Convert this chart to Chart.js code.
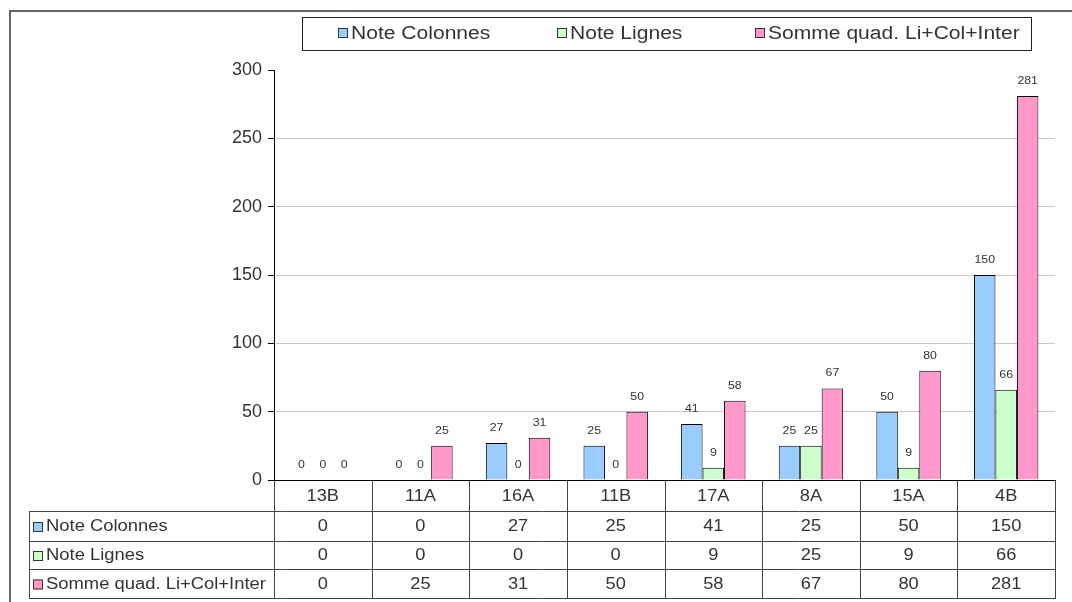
<!DOCTYPE html>
<html>
<head>
<meta charset="utf-8">
<script src="https://cdn.jsdelivr.net/npm/chart.js@4/dist/chart.umd.min.js"></script>
<style>
  html, body { margin: 0; padding: 0; background: #fff; }
  canvas { display: block; }
</style>
</head>
<body>
<canvas id="chart" width="1072" height="602"></canvas>
<script>
// data
const categories = ['13B', '11A', '16A', '11B', '17A', '8A', '15A', '4B'];
const noteColonnes = [0, 0, 27, 25, 41, 25, 50, 150];
const noteLignes = [0, 0, 0, 0, 9, 25, 9, 66];
const sommeQuad = [0, 25, 31, 50, 58, 67, 80, 281];
const seriesNames = ['Note Colonnes', 'Note Lignes', 'Somme quad. Li+Col+Inter'];
const seriesColors = ['#99ccff', '#ccffcc', '#ff99cc'];
const yTicks = [0, 50, 100, 150, 200, 250, 300];

const FONT = '"Liberation Sans", Arial, sans-serif';
const TEXT = '#333';

// reference text is a bit wide, so stretch it horizontally
function drawText(ctx, text, x, y, size, align, stretch) {
  ctx.save();
  ctx.translate(x, y);
  ctx.scale(stretch || 1.14, 1);
  ctx.font = size + 'px ' + FONT;
  ctx.fillStyle = TEXT;
  ctx.textAlign = align || 'center';
  ctx.textBaseline = 'middle';
  ctx.fillText(text, 0, 0);
  ctx.restore();
}

function swatch(ctx, x, y, color, s) {
  ctx.fillStyle = color;
  ctx.fillRect(x, y, s, s);
  ctx.strokeStyle = '#333';
  ctx.lineWidth = 1;
  ctx.strokeRect(x + 0.5, y + 0.5, s - 1, s - 1);
}

function hline(ctx, x1, x2, y) {
  ctx.beginPath();
  ctx.moveTo(x1, Math.round(y) + 0.5);
  ctx.lineTo(x2, Math.round(y) + 0.5);
  ctx.stroke();
}
function vline(ctx, x, y1, y2) {
  ctx.beginPath();
  ctx.moveTo(Math.round(x) + 0.5, y1);
  ctx.lineTo(Math.round(x) + 0.5, y2);
  ctx.stroke();
}

// value labels above each bar
const valueLabels = {
  id: 'valueLabels',
  afterDatasetsDraw(chart) {
    const ctx = chart.ctx;
    chart.data.datasets.forEach((ds, i) => {
      chart.getDatasetMeta(i).data.forEach((bar, j) => {
        drawText(ctx, String(ds.data[j]), bar.x, bar.y - 15, 11, 'center', 1.12);
      });
    });
  }
};

// frame, legend box and data table
const decorations = {
  id: 'decorations',
  afterDraw(chart) {
    const ctx = chart.ctx;
    const xs = chart.scales.x;
    const ys = chart.scales.y;
    const area = chart.chartArea;
    const n = categories.length;
    const step = xs.width / n;
    const top = Math.round(ys.getPixelForValue(0));
    const rows = [top, 511, 541, 569, 598];

    ctx.save();
    // outer frame (cut off on the right and bottom)
    ctx.strokeStyle = '#666';
    ctx.lineWidth = 2;
    ctx.beginPath();
    ctx.moveTo(10, 602);
    ctx.lineTo(10, 11);
    ctx.lineTo(1072, 11);
    ctx.stroke();

    // legend
    ctx.lineWidth = 1;
    ctx.strokeStyle = '#222';
    ctx.strokeRect(302.5, 17.5, 729, 33);
    const legendX = [338, 557, 755];
    seriesNames.forEach((name, i) => {
      swatch(ctx, legendX[i], 28, seriesColors[i], 10);
      drawText(ctx, name, legendX[i] + 13, 34, 18, 'left', 1.17);
    });

    // data table
    ctx.strokeStyle = '#444';
    ctx.lineWidth = 1;
    hline(ctx, 29, area.right + 1, rows[1]);
    hline(ctx, 29, area.right + 1, rows[2]);
    hline(ctx, 29, area.right + 1, rows[3]);
    hline(ctx, 29, area.right + 1, rows[4]);
    vline(ctx, 29, rows[1], rows[4]);
    for (let i = 0; i <= n; i++) {
      vline(ctx, area.left + i * step, top, rows[4]);
    }
    ctx.strokeStyle = '#000';
    hline(ctx, area.left - 6, area.right + 1, top);

    categories.forEach((c, i) => {
      const cx = xs.getPixelForValue(i);
      drawText(ctx, c, cx, (rows[0] + rows[1]) / 2 + 1, 16);
    });
    const tableSeries = [noteColonnes, noteLignes, sommeQuad];
    tableSeries.forEach((vals, r) => {
      const cy = (rows[r + 1] + rows[r + 2]) / 2 + 1;
      swatch(ctx, 33, cy - 5, seriesColors[r], 10);
      drawText(ctx, seriesNames[r], 46, cy, 16, 'left', 1.15);
      vals.forEach((v, i) => {
        drawText(ctx, String(v), xs.getPixelForValue(i), cy, 16);
      });
    });
    ctx.restore();
  }
};

const ctx = document.getElementById('chart').getContext('2d');
new Chart(ctx, {
  type: 'bar',
  data: {
    labels: categories,
    datasets: [noteColonnes, noteLignes, sommeQuad].map((vals, i) => ({
      label: seriesNames[i],
      data: vals,
      backgroundColor: seriesColors[i],
      borderColor: '#000',
      borderWidth: 1,
      borderSkipped: 'start',
      categoryPercentage: 0.66,
      barPercentage: 1.0
    }))
  },
  options: {
    responsive: false,
    animation: false,
    layout: { padding: { top: 70, bottom: 122, right: 17, left: 0 } },
    scales: {
      x: { display: false },
      y: {
        min: 0,
        max: 300,
        afterFit(scale) { scale.width = 274; },
        afterBuildTicks(scale) { scale.ticks = yTicks.map(v => ({ value: v })); },
        border: { display: true, color: '#000', width: 1 },
        grid: {
          color: ctx => (ctx.tick.value === 0 || ctx.tick.value === 300) ? 'rgba(0,0,0,0)' : '#c8c8c8',
          tickColor: '#000',
          tickLength: 6,
          drawTicks: true
        },
        ticks: {
          color: TEXT,
          padding: 6,
          font: { family: FONT, size: 18 }
        }
      }
    },
    plugins: {
      legend: { display: false },
      tooltip: { enabled: false }
    }
  },
  plugins: [valueLabels, decorations]
});
</script>
</body>
</html>
